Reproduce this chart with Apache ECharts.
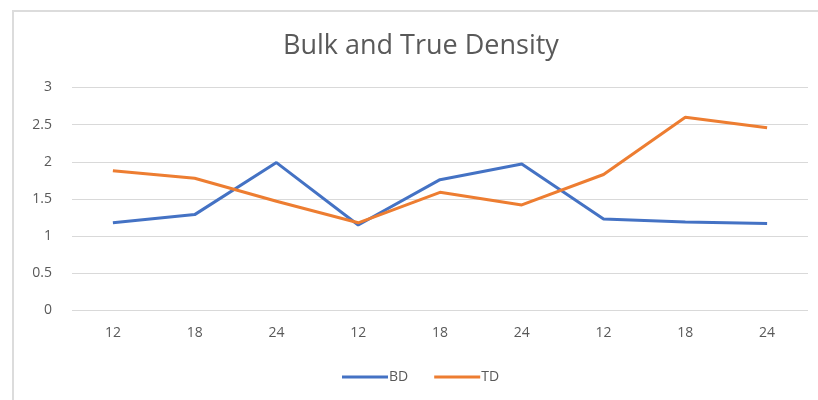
<!DOCTYPE html>
<html>
<head>
<meta charset="utf-8">
<script src="https://cdn.jsdelivr.net/npm/echarts@6/dist/echarts.min.js"></script>
<style>
  html, body { margin: 0; padding: 0; background: #fff; }
  #chart { width: 818px; height: 400px; }
</style>
</head>
<body>
<div id="chart"></div>
<script>
// Hours for each of the three batches
const categories = ['12', '18', '24', '12', '18', '24', '12', '18', '24'];
// Bulk density
const bdValues = [1.18, 1.29, 1.99, 1.15, 1.76, 1.97, 1.23, 1.19, 1.17];
// True density
const tdValues = [1.88, 1.78, 1.47, 1.18, 1.59, 1.42, 1.83, 2.60, 2.46];
const yTicks = [0, 0.5, 1, 1.5, 2, 2.5, 3];

const chart = echarts.init(document.getElementById('chart'));
const textColor = '#595959';
const font = '"Open Sans", Lato, sans-serif';

chart.setOption({
  animation: false,
  backgroundColor: '#ffffff',
  // chart frame (extends past the right and bottom edges)
  graphic: [{
    type: 'rect',
    shape: { x: 13, y: 11, width: 830, height: 420 },
    style: { fill: 'none', stroke: '#dcdcdc', lineWidth: 2 },
    silent: true
  }],
  title: {
    text: 'Bulk and True Density',
    left: 278,
    top: 28,
    textStyle: { color: textColor, fontSize: 27, fontWeight: 'normal', fontFamily: font }
  },
  legend: {
    bottom: 11,
    left: 337,
    itemWidth: 46,
    itemHeight: 3,
    itemGap: 26,
    icon: 'rect',
    textStyle: { color: textColor, fontSize: 14, fontFamily: font, padding: [0, 0, 0, -4] },
    data: ['BD', 'TD']
  },
  grid: { left: 72, right: 10, top: 87.5, bottom: 89.5 },
  xAxis: {
    type: 'category',
    data: categories,
    boundaryGap: true,
    axisLine: { show: false },
    axisTick: { show: false },
    axisLabel: { color: textColor, fontSize: 14, margin: 16, fontFamily: font }
  },
  yAxis: {
    type: 'value',
    min: yTicks[0],
    max: yTicks[yTicks.length - 1],
    interval: 0.5,
    axisLine: { show: false },
    axisTick: { show: false },
    axisLabel: { color: textColor, fontSize: 14, margin: 20, fontFamily: font },
    splitLine: { lineStyle: { color: '#d9d9d9', width: 1 } }
  },
  series: [
    {
      name: 'BD',
      type: 'line',
      data: bdValues,
      symbol: 'none',
      color: '#4472c4',
      lineStyle: { width: 3, color: '#4472c4' }
    },
    {
      name: 'TD',
      type: 'line',
      data: tdValues,
      symbol: 'none',
      color: '#ed7d31',
      lineStyle: { width: 3, color: '#ed7d31' }
    }
  ]
});
</script>
</body>
</html>
